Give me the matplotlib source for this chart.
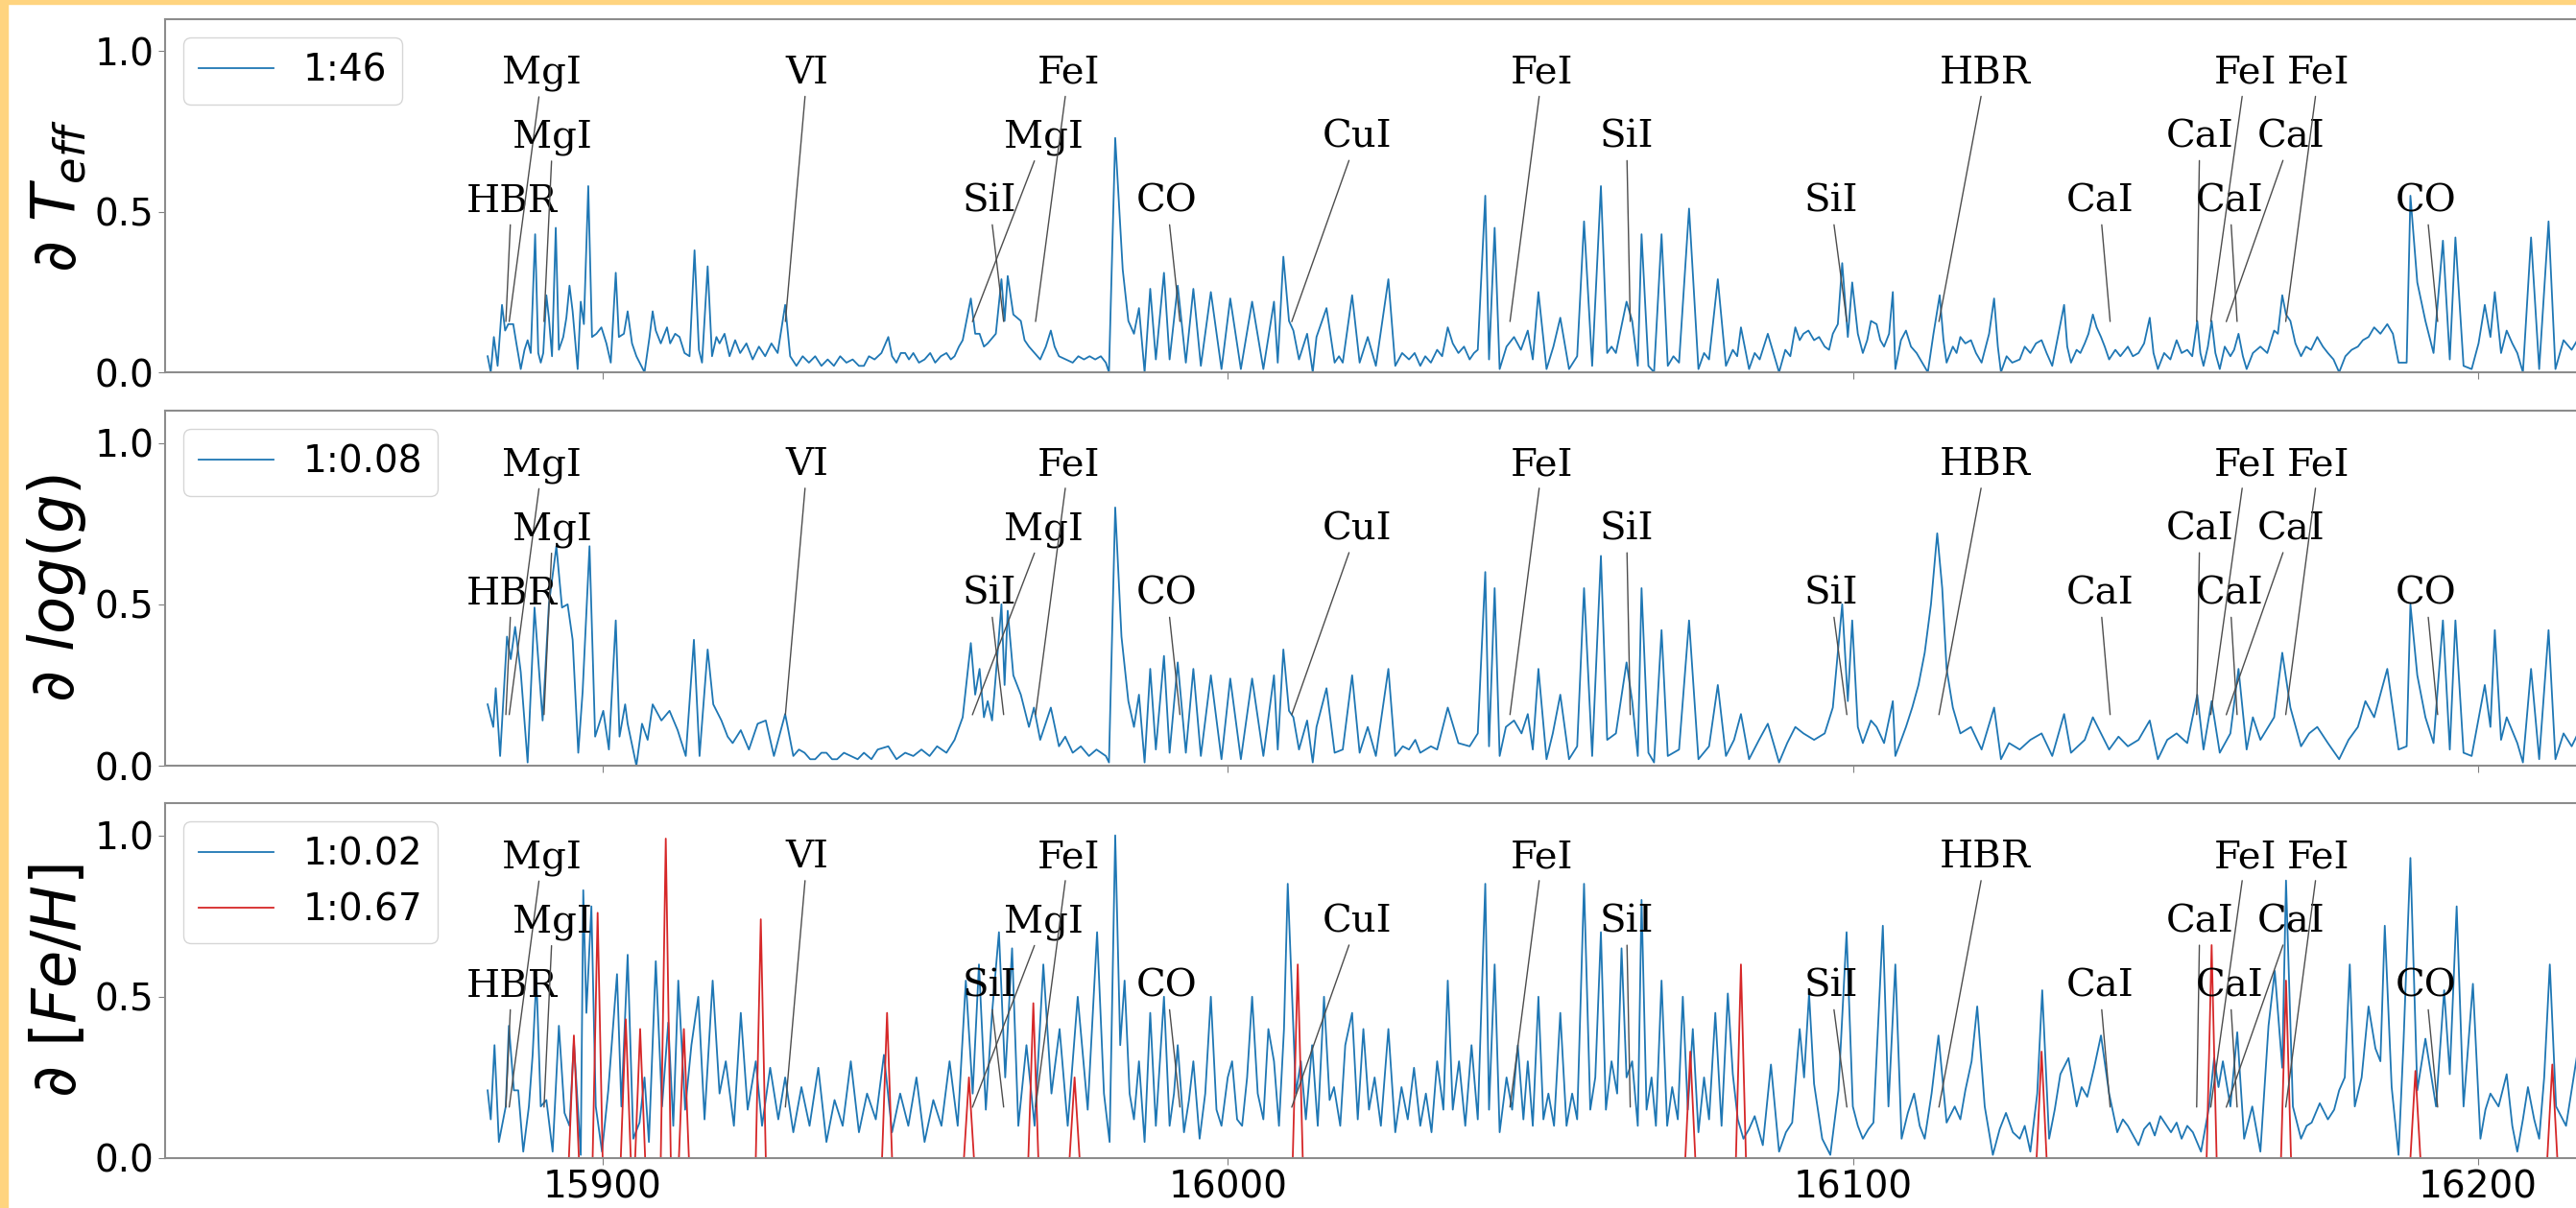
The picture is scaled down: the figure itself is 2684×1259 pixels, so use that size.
import numpy as np
import matplotlib.pyplot as plt
from matplotlib.patches import Rectangle

# gradient spectra: (wavelength, |d flux / d label|), normalised
teff_points = [
    (15881.6, 0.05), (15882.1, 0.00), (15882.6, 0.11), (15883.2, 0.02), (15883.9, 0.21), (15884.4, 0.13),
    (15884.9, 0.15), (15885.7, 0.15), (15886.2, 0.09), (15886.9, 0.01), (15887.5, 0.07), (15888.0, 0.10),
    (15888.5, 0.06), (15889.2, 0.43), (15889.7, 0.06), (15890.1, 0.03), (15890.5, 0.06), (15891.0, 0.24),
    (15891.4, 0.17), (15891.9, 0.05), (15892.5, 0.45), (15893.0, 0.07), (15893.7, 0.11), (15894.2, 0.17),
    (15894.7, 0.27), (15895.2, 0.19), (15896.0, 0.01), (15896.5, 0.22), (15897.0, 0.15), (15897.7, 0.58),
    (15898.3, 0.11), (15899.0, 0.12), (15899.8, 0.14), (15900.6, 0.09), (15901.3, 0.03), (15902.1, 0.31),
    (15902.6, 0.11), (15903.4, 0.12), (15904.0, 0.19), (15904.7, 0.09), (15905.4, 0.05), (15906.7, 0.00),
    (15907.5, 0.11), (15908.0, 0.19), (15908.5, 0.13), (15909.3, 0.09), (15910.3, 0.14), (15910.8, 0.09),
    (15911.6, 0.12), (15912.3, 0.11), (15913.1, 0.06), (15913.9, 0.05), (15914.7, 0.38), (15915.4, 0.07),
    (15915.9, 0.03), (15916.8, 0.33), (15917.5, 0.05), (15918.2, 0.11), (15918.7, 0.09), (15919.5, 0.12),
    (15920.3, 0.05), (15921.2, 0.10), (15922.0, 0.06), (15923.0, 0.09), (15924.0, 0.04), (15925.0, 0.08),
    (15926.0, 0.05), (15927.0, 0.09), (15928.0, 0.06), (15929.2, 0.21), (15930.0, 0.05), (15931.0, 0.02),
    (15932.0, 0.05), (15933.0, 0.03), (15934.0, 0.05), (15935.0, 0.02), (15936.0, 0.04), (15937.0, 0.02),
    (15938.0, 0.05), (15939.0, 0.03), (15940.0, 0.04), (15941.0, 0.02), (15941.8, 0.02), (15942.6, 0.05),
    (15943.5, 0.04), (15944.6, 0.06), (15945.7, 0.11), (15946.3, 0.05), (15947.0, 0.03), (15947.7, 0.06),
    (15948.4, 0.06), (15949.0, 0.04), (15949.7, 0.06), (15950.6, 0.03), (15951.5, 0.04), (15952.4, 0.06),
    (15953.2, 0.03), (15954.1, 0.05), (15955.0, 0.06), (15955.7, 0.04), (15956.3, 0.05), (15957.0, 0.08),
    (15957.6, 0.10), (15958.9, 0.23), (15959.6, 0.12), (15960.3, 0.12), (15961.0, 0.08), (15961.6, 0.09),
    (15962.9, 0.12), (15963.8, 0.29), (15964.3, 0.16), (15964.8, 0.30), (15965.7, 0.18), (15966.9, 0.16),
    (15967.5, 0.10), (15968.2, 0.08), (15969.1, 0.06), (15970.0, 0.04), (15970.9, 0.08), (15971.7, 0.13),
    (15972.3, 0.08), (15973.0, 0.05), (15974.1, 0.04), (15975.2, 0.03), (15976.1, 0.05), (15977.0, 0.04),
    (15977.9, 0.05), (15978.8, 0.04), (15979.7, 0.05), (15980.5, 0.03), (15981.0, 0.00), (15982.0, 0.73),
    (15983.2, 0.32), (15984.1, 0.16), (15985.0, 0.12), (15985.8, 0.20), (15986.7, 0.00), (15987.6, 0.26),
    (15988.5, 0.04), (15989.8, 0.31), (15990.7, 0.04), (15992.0, 0.27), (15993.3, 0.03), (15994.5, 0.26),
    (15995.7, 0.02), (15997.3, 0.25), (15999.0, 0.01), (16000.4, 0.23), (16002.1, 0.01), (16003.9, 0.22),
    (16005.7, 0.01), (16007.4, 0.22), (16008.0, 0.03), (16008.9, 0.36), (16009.8, 0.16), (16010.5, 0.13),
    (16011.4, 0.04), (16012.7, 0.12), (16013.6, 0.00), (16014.2, 0.11), (16015.8, 0.20), (16017.1, 0.03),
    (16017.8, 0.05), (16018.4, 0.03), (16019.9, 0.24), (16021.1, 0.03), (16022.4, 0.11), (16023.7, 0.02),
    (16025.7, 0.29), (16026.8, 0.02), (16027.9, 0.06), (16029.0, 0.04), (16029.9, 0.06), (16030.8, 0.02),
    (16031.6, 0.05), (16032.5, 0.03), (16033.5, 0.07), (16034.3, 0.05), (16035.2, 0.14), (16036.0, 0.09),
    (16036.9, 0.06), (16037.8, 0.08), (16038.7, 0.04), (16039.4, 0.06), (16040.0, 0.07), (16041.2, 0.55),
    (16041.8, 0.04), (16042.7, 0.45), (16043.5, 0.01), (16044.6, 0.08), (16045.8, 0.11), (16046.9, 0.07),
    (16048.0, 0.13), (16048.8, 0.04), (16049.7, 0.25), (16051.0, 0.01), (16052.1, 0.08), (16053.2, 0.17),
    (16054.6, 0.01), (16055.9, 0.05), (16057.0, 0.47), (16058.3, 0.02), (16059.7, 0.58), (16060.7, 0.06),
    (16061.4, 0.08), (16062.1, 0.06), (16063.8, 0.22), (16064.7, 0.16), (16065.6, 0.02), (16066.2, 0.43),
    (16067.3, 0.02), (16068.2, 0.00), (16069.4, 0.43), (16070.4, 0.02), (16071.3, 0.05), (16072.2, 0.03),
    (16073.8, 0.51), (16075.3, 0.01), (16076.2, 0.06), (16077.0, 0.04), (16078.4, 0.29), (16079.7, 0.02),
    (16080.8, 0.07), (16081.5, 0.05), (16082.1, 0.14), (16083.4, 0.01), (16084.3, 0.06), (16085.1, 0.04),
    (16086.4, 0.12), (16087.3, 0.06), (16088.2, 0.00), (16089.2, 0.07), (16090.0, 0.05), (16090.8, 0.14),
    (16091.5, 0.10), (16092.1, 0.12), (16092.9, 0.13), (16093.8, 0.10), (16094.6, 0.11), (16095.5, 0.08),
    (16096.2, 0.07), (16096.8, 0.12), (16097.6, 0.15), (16098.3, 0.34), (16099.2, 0.11), (16099.9, 0.28),
    (16100.8, 0.12), (16101.6, 0.06), (16102.3, 0.10), (16102.9, 0.16), (16103.8, 0.15), (16104.4, 0.10),
    (16105.0, 0.08), (16105.8, 0.12), (16106.4, 0.25), (16106.8, 0.01), (16107.7, 0.10), (16108.5, 0.13),
    (16109.3, 0.08), (16110.2, 0.06), (16111.1, 0.03), (16112.0, 0.00), (16112.9, 0.12), (16113.9, 0.24),
    (16114.5, 0.10), (16115.0, 0.03), (16116.0, 0.08), (16116.6, 0.06), (16117.2, 0.11), (16118.0, 0.09),
    (16118.9, 0.10), (16119.7, 0.06), (16120.6, 0.03), (16121.8, 0.12), (16122.6, 0.23), (16123.2, 0.08),
    (16123.7, 0.00), (16124.6, 0.05), (16125.5, 0.03), (16126.7, 0.04), (16127.5, 0.08), (16128.4, 0.06),
    (16129.3, 0.09), (16130.2, 0.10), (16131.0, 0.06), (16131.9, 0.02), (16132.9, 0.12), (16133.8, 0.21),
    (16134.3, 0.08), (16134.9, 0.03), (16135.8, 0.07), (16136.4, 0.06), (16137.1, 0.09), (16137.7, 0.12),
    (16138.4, 0.18), (16139.0, 0.14), (16139.7, 0.11), (16140.3, 0.08), (16141.0, 0.04), (16142.0, 0.07),
    (16142.8, 0.05), (16144.0, 0.08), (16144.8, 0.05), (16145.7, 0.06), (16146.6, 0.09), (16147.5, 0.17),
    (16148.1, 0.06), (16148.8, 0.01), (16149.8, 0.06), (16150.8, 0.04), (16151.8, 0.10), (16152.6, 0.06),
    (16153.5, 0.07), (16154.3, 0.05), (16155.1, 0.16), (16155.6, 0.06), (16156.1, 0.02), (16156.8, 0.08),
    (16157.4, 0.16), (16158.0, 0.06), (16158.7, 0.01), (16159.5, 0.08), (16160.4, 0.05), (16161.0, 0.07),
    (16161.7, 0.12), (16162.4, 0.05), (16163.0, 0.01), (16164.0, 0.06), (16165.2, 0.08), (16166.3, 0.06),
    (16167.4, 0.13), (16168.0, 0.12), (16168.7, 0.24), (16169.3, 0.18), (16170.0, 0.16), (16170.8, 0.09),
    (16171.7, 0.05), (16172.5, 0.08), (16173.3, 0.07), (16174.3, 0.11), (16175.2, 0.08), (16176.0, 0.06),
    (16176.9, 0.04), (16177.8, 0.00), (16178.8, 0.05), (16179.8, 0.07), (16180.8, 0.08), (16181.6, 0.10),
    (16182.5, 0.11), (16183.4, 0.14), (16184.4, 0.12), (16185.5, 0.15), (16186.4, 0.12), (16187.3, 0.03),
    (16188.6, 0.03), (16189.2, 0.55), (16190.3, 0.28), (16191.6, 0.16), (16192.9, 0.06), (16194.4, 0.41),
    (16195.5, 0.04), (16196.4, 0.42), (16197.7, 0.02), (16199.0, 0.01), (16200.1, 0.09), (16201.1, 0.21),
    (16202.0, 0.11), (16202.7, 0.25), (16203.7, 0.06), (16204.6, 0.13), (16205.5, 0.09), (16206.3, 0.06),
    (16207.2, 0.00), (16208.5, 0.42), (16209.8, 0.01), (16211.3, 0.47), (16212.4, 0.01), (16213.7, 0.10),
    (16215.0, 0.07), (16216.5, 0.12), (16218.0, 0.05),
]

logg_points = [
    (15881.6, 0.19), (15882.5, 0.12), (15882.9, 0.24), (15883.6, 0.03), (15884.7, 0.40), (15885.3, 0.33),
    (15886.0, 0.43), (15886.9, 0.29), (15888.0, 0.01), (15889.1, 0.49), (15890.4, 0.14), (15891.4, 0.50),
    (15892.6, 0.68), (15893.5, 0.49), (15894.4, 0.50), (15895.2, 0.39), (15896.1, 0.04), (15896.8, 0.23),
    (15897.9, 0.68), (15898.8, 0.09), (15900.1, 0.17), (15901.0, 0.05), (15902.1, 0.45), (15902.7, 0.09),
    (15903.6, 0.19), (15904.0, 0.13), (15905.4, 0.00), (15906.3, 0.13), (15907.2, 0.08), (15908.0, 0.19),
    (15909.4, 0.14), (15910.7, 0.17), (15912.0, 0.11), (15913.3, 0.03), (15914.6, 0.39), (15915.5, 0.03),
    (15916.8, 0.36), (15917.7, 0.19), (15919.0, 0.14), (15920.0, 0.09), (15920.8, 0.07), (15922.1, 0.11),
    (15923.4, 0.05), (15924.8, 0.13), (15926.1, 0.14), (15927.4, 0.03), (15929.2, 0.16), (15930.5, 0.03),
    (15931.4, 0.05), (15932.3, 0.04), (15933.2, 0.02), (15934.0, 0.02), (15935.0, 0.04), (15935.8, 0.04),
    (15936.7, 0.02), (15937.5, 0.02), (15938.6, 0.04), (15939.7, 0.03), (15940.8, 0.02), (15941.8, 0.04),
    (15943.0, 0.02), (15944.0, 0.05), (15945.7, 0.06), (15947.0, 0.02), (15948.4, 0.04), (15949.7, 0.03),
    (15951.0, 0.05), (15952.3, 0.03), (15953.5, 0.06), (15955.0, 0.04), (15956.3, 0.08), (15957.6, 0.15),
    (15958.9, 0.38), (15959.6, 0.22), (15960.3, 0.30), (15961.0, 0.15), (15961.6, 0.20), (15962.3, 0.14),
    (15962.9, 0.28), (15963.8, 0.50), (15964.3, 0.25), (15964.8, 0.48), (15965.7, 0.28), (15966.9, 0.22),
    (15968.2, 0.12), (15969.0, 0.18), (15970.0, 0.08), (15971.7, 0.18), (15973.0, 0.06), (15974.0, 0.09),
    (15975.2, 0.04), (15976.5, 0.06), (15977.8, 0.03), (15979.0, 0.05), (15980.5, 0.03), (15981.0, 0.01),
    (15982.0, 0.80), (15983.0, 0.40), (15984.1, 0.20), (15985.0, 0.12), (15985.8, 0.22), (15986.7, 0.01),
    (15987.6, 0.30), (15988.5, 0.05), (15989.8, 0.34), (15990.7, 0.04), (15992.0, 0.32), (15993.3, 0.04),
    (15994.5, 0.30), (15995.7, 0.03), (15997.3, 0.28), (15999.0, 0.02), (16000.4, 0.27), (16002.1, 0.02),
    (16003.9, 0.27), (16005.7, 0.03), (16007.4, 0.28), (16008.0, 0.05), (16008.9, 0.36), (16009.8, 0.17),
    (16010.5, 0.15), (16011.4, 0.05), (16012.7, 0.14), (16013.6, 0.01), (16014.2, 0.12), (16015.8, 0.24),
    (16017.1, 0.04), (16018.4, 0.05), (16019.9, 0.28), (16021.1, 0.04), (16022.4, 0.12), (16023.7, 0.03),
    (16025.7, 0.30), (16026.8, 0.03), (16028.0, 0.06), (16029.0, 0.05), (16030.0, 0.08), (16030.8, 0.04),
    (16032.5, 0.06), (16033.5, 0.05), (16035.2, 0.18), (16036.9, 0.07), (16038.7, 0.06), (16040.0, 0.10),
    (16041.2, 0.60), (16041.8, 0.06), (16042.7, 0.55), (16043.5, 0.03), (16044.5, 0.12), (16045.8, 0.14),
    (16047.0, 0.10), (16048.0, 0.16), (16048.8, 0.05), (16049.7, 0.30), (16051.0, 0.02), (16052.0, 0.10),
    (16053.2, 0.22), (16054.6, 0.02), (16055.9, 0.06), (16057.0, 0.55), (16058.3, 0.03), (16059.7, 0.65),
    (16060.7, 0.08), (16062.1, 0.10), (16063.8, 0.32), (16064.7, 0.20), (16065.6, 0.03), (16066.2, 0.55),
    (16067.3, 0.04), (16068.2, 0.01), (16069.4, 0.42), (16070.4, 0.03), (16072.2, 0.05), (16073.8, 0.45),
    (16075.3, 0.02), (16077.0, 0.06), (16078.4, 0.25), (16079.7, 0.03), (16081.0, 0.08), (16082.1, 0.16),
    (16083.4, 0.02), (16085.0, 0.08), (16086.4, 0.13), (16088.2, 0.01), (16089.5, 0.07), (16090.8, 0.12),
    (16092.1, 0.10), (16093.8, 0.08), (16095.5, 0.10), (16096.8, 0.18), (16098.3, 0.50), (16099.2, 0.20),
    (16099.9, 0.45), (16100.8, 0.12), (16101.6, 0.07), (16102.9, 0.14), (16103.8, 0.12), (16105.0, 0.07),
    (16106.4, 0.20), (16106.8, 0.03), (16108.5, 0.12), (16109.5, 0.18), (16110.5, 0.25), (16111.5, 0.35),
    (16112.5, 0.50), (16113.5, 0.72), (16114.3, 0.55), (16115.0, 0.30), (16116.0, 0.18), (16117.2, 0.10),
    (16118.9, 0.12), (16120.6, 0.05), (16122.6, 0.18), (16123.7, 0.02), (16125.0, 0.07), (16126.7, 0.05),
    (16128.4, 0.08), (16130.2, 0.10), (16131.9, 0.03), (16133.8, 0.16), (16134.9, 0.04), (16137.1, 0.08),
    (16138.4, 0.15), (16139.7, 0.10), (16141.0, 0.05), (16142.5, 0.09), (16144.0, 0.06), (16145.7, 0.08),
    (16147.5, 0.14), (16148.8, 0.02), (16150.3, 0.08), (16151.8, 0.10), (16153.5, 0.07), (16155.1, 0.22),
    (16156.1, 0.05), (16157.4, 0.20), (16158.7, 0.04), (16160.4, 0.10), (16161.7, 0.30), (16163.0, 0.05),
    (16164.0, 0.15), (16165.2, 0.08), (16167.4, 0.15), (16168.7, 0.35), (16170.0, 0.18), (16171.7, 0.06),
    (16173.0, 0.10), (16174.3, 0.12), (16176.0, 0.07), (16177.8, 0.02), (16179.3, 0.08), (16180.8, 0.12),
    (16182.0, 0.20), (16183.4, 0.15), (16185.5, 0.30), (16187.3, 0.05), (16188.6, 0.06), (16189.2, 0.50),
    (16190.3, 0.28), (16191.6, 0.15), (16192.9, 0.07), (16194.4, 0.45), (16195.5, 0.05), (16196.4, 0.45),
    (16197.7, 0.04), (16199.0, 0.03), (16201.1, 0.25), (16202.0, 0.12), (16202.7, 0.42), (16203.7, 0.08),
    (16204.6, 0.15), (16206.3, 0.07), (16207.2, 0.01), (16208.5, 0.30), (16209.8, 0.02), (16211.3, 0.42),
    (16212.4, 0.02), (16213.7, 0.10), (16215.0, 0.06), (16216.5, 0.12), (16218.0, 0.05),
]

feh_points = [
    (15881.6, 0.21), (15882.1, 0.12), (15882.7, 0.35), (15883.4, 0.05), (15884.5, 0.16), (15885.0, 0.41),
    (15885.8, 0.21), (15886.5, 0.21), (15887.3, 0.02), (15888.2, 0.16), (15888.8, 0.32), (15889.4, 0.56),
    (15890.1, 0.16), (15891.0, 0.18), (15892.0, 0.02), (15893.0, 0.41), (15893.9, 0.14), (15894.7, 0.10),
    (15895.4, 0.36), (15896.5, 0.01), (15896.9, 0.83), (15897.4, 0.45), (15898.2, 0.78), (15898.9, 0.16),
    (15899.9, 0.02), (15900.9, 0.21), (15902.3, 0.57), (15903.0, 0.16), (15904.0, 0.63), (15904.9, 0.06),
    (15905.9, 0.11), (15906.7, 0.25), (15907.4, 0.05), (15908.5, 0.61), (15909.5, 0.16), (15910.5, 0.42),
    (15911.3, 0.10), (15912.1, 0.55), (15913.2, 0.15), (15914.2, 0.35), (15915.3, 0.50), (15916.3, 0.12),
    (15917.6, 0.55), (15918.7, 0.20), (15919.7, 0.30), (15921.0, 0.10), (15922.1, 0.45), (15923.2, 0.15),
    (15924.5, 0.30), (15925.5, 0.10), (15926.8, 0.28), (15928.1, 0.12), (15929.2, 0.25), (15930.5, 0.08),
    (15931.8, 0.22), (15933.1, 0.10), (15934.5, 0.28), (15935.8, 0.05), (15937.1, 0.18), (15938.4, 0.10),
    (15939.7, 0.30), (15941.0, 0.08), (15942.3, 0.20), (15943.7, 0.12), (15945.0, 0.32), (15946.3, 0.08),
    (15947.6, 0.20), (15948.9, 0.10), (15950.2, 0.25), (15951.5, 0.05), (15952.9, 0.18), (15954.2, 0.10),
    (15955.5, 0.30), (15956.8, 0.10), (15958.1, 0.55), (15959.2, 0.20), (15960.2, 0.60), (15961.3, 0.15),
    (15962.3, 0.45), (15963.4, 0.70), (15964.4, 0.25), (15965.5, 0.65), (15966.5, 0.10), (15967.8, 0.35),
    (15969.1, 0.10), (15970.5, 0.60), (15971.8, 0.20), (15973.1, 0.40), (15974.4, 0.10), (15976.0, 0.50),
    (15977.6, 0.15), (15979.1, 0.70), (15980.2, 0.20), (15981.1, 0.05), (15982.0, 1.00), (15982.8, 0.35),
    (15983.5, 0.55), (15984.3, 0.20), (15985.0, 0.12), (15985.8, 0.30), (15986.7, 0.05), (15987.6, 0.45),
    (15988.5, 0.10), (15989.8, 0.50), (15990.7, 0.10), (15991.4, 0.20), (15992.0, 0.35), (15993.0, 0.08),
    (15993.8, 0.18), (15994.5, 0.30), (15995.5, 0.06), (15996.4, 0.20), (15997.3, 0.50), (15998.2, 0.15),
    (15999.0, 0.10), (16000.0, 0.25), (16000.7, 0.30), (16001.5, 0.12), (16002.3, 0.10), (16003.1, 0.25),
    (16003.9, 0.50), (16004.8, 0.20), (16005.7, 0.12), (16006.5, 0.40), (16007.4, 0.30), (16008.2, 0.10),
    (16009.0, 0.40), (16009.6, 0.85), (16010.9, 0.20), (16011.7, 0.30), (16012.5, 0.12), (16013.5, 0.35),
    (16014.4, 0.10), (16015.4, 0.50), (16016.3, 0.18), (16017.0, 0.22), (16018.0, 0.10), (16018.8, 0.35),
    (16019.9, 0.45), (16020.8, 0.12), (16021.7, 0.40), (16022.6, 0.15), (16023.5, 0.25), (16024.5, 0.10),
    (16025.7, 0.40), (16026.8, 0.08), (16027.8, 0.22), (16028.8, 0.12), (16029.8, 0.28), (16030.8, 0.10),
    (16031.7, 0.20), (16032.6, 0.08), (16033.5, 0.30), (16034.5, 0.15), (16035.2, 0.55), (16036.0, 0.15),
    (16037.0, 0.30), (16038.0, 0.10), (16039.0, 0.35), (16040.0, 0.12), (16041.2, 0.85), (16041.8, 0.15),
    (16042.7, 0.60), (16043.5, 0.08), (16044.6, 0.25), (16045.5, 0.15), (16046.4, 0.35), (16047.3, 0.12),
    (16048.0, 0.30), (16048.8, 0.10), (16049.7, 0.50), (16050.5, 0.12), (16051.3, 0.20), (16052.2, 0.10),
    (16053.2, 0.45), (16054.2, 0.10), (16055.1, 0.20), (16055.9, 0.12), (16057.0, 0.85), (16058.0, 0.15),
    (16058.8, 0.25), (16059.7, 0.70), (16060.5, 0.15), (16061.4, 0.30), (16062.3, 0.20), (16063.0, 0.65),
    (16063.8, 0.25), (16064.7, 0.30), (16065.6, 0.10), (16066.2, 0.80), (16067.0, 0.15), (16067.8, 0.25),
    (16068.5, 0.10), (16069.4, 0.55), (16070.3, 0.10), (16071.1, 0.22), (16072.0, 0.12), (16072.8, 0.50),
    (16073.6, 0.15), (16074.4, 0.40), (16075.3, 0.08), (16076.2, 0.25), (16077.0, 0.12), (16078.0, 0.45),
    (16079.0, 0.10), (16080.0, 0.51), (16080.8, 0.26), (16081.6, 0.12), (16082.5, 0.06), (16083.4, 0.09),
    (16084.3, 0.13), (16085.6, 0.04), (16086.9, 0.29), (16088.2, 0.02), (16089.3, 0.08), (16090.3, 0.11),
    (16091.5, 0.40), (16092.2, 0.25), (16093.0, 0.51), (16093.8, 0.23), (16095.1, 0.06), (16096.4, 0.01),
    (16097.7, 0.21), (16099.0, 0.70), (16100.0, 0.16), (16100.8, 0.10), (16101.6, 0.06), (16102.5, 0.09),
    (16103.3, 0.11), (16104.8, 0.72), (16105.7, 0.16), (16106.8, 0.60), (16107.8, 0.06), (16108.8, 0.14),
    (16109.8, 0.20), (16110.7, 0.10), (16111.5, 0.06), (16112.6, 0.20), (16113.7, 0.38), (16115.0, 0.11),
    (16116.3, 0.16), (16117.2, 0.12), (16118.0, 0.21), (16119.0, 0.30), (16119.9, 0.47), (16121.1, 0.16),
    (16122.4, 0.01), (16123.5, 0.09), (16124.5, 0.14), (16125.6, 0.08), (16126.7, 0.06), (16127.5, 0.10),
    (16128.4, 0.02), (16129.5, 0.20), (16130.3, 0.52), (16131.4, 0.06), (16132.3, 0.15), (16133.2, 0.26),
    (16134.5, 0.31), (16135.8, 0.16), (16136.6, 0.22), (16137.5, 0.19), (16138.6, 0.28), (16139.7, 0.38),
    (16141.0, 0.20), (16142.3, 0.08), (16143.2, 0.12), (16144.0, 0.10), (16145.7, 0.04), (16146.6, 0.09),
    (16147.5, 0.11), (16148.3, 0.07), (16149.2, 0.13), (16150.9, 0.08), (16151.8, 0.11), (16152.6, 0.06),
    (16153.5, 0.10), (16154.4, 0.08), (16155.7, 0.02), (16157.0, 0.16), (16157.8, 0.31), (16158.5, 0.22),
    (16159.2, 0.30), (16160.4, 0.16), (16161.5, 0.39), (16162.6, 0.06), (16163.9, 0.16), (16165.2, 0.02),
    (16166.5, 0.41), (16167.5, 0.58), (16168.7, 0.28), (16169.3, 0.86), (16170.4, 0.16), (16171.7, 0.06),
    (16172.6, 0.10), (16173.4, 0.11), (16174.7, 0.17), (16176.0, 0.12), (16177.0, 0.15), (16177.8, 0.21),
    (16178.7, 0.25), (16179.5, 0.60), (16180.3, 0.16), (16181.4, 0.25), (16182.5, 0.47), (16183.6, 0.34),
    (16184.4, 0.30), (16185.1, 0.72), (16186.2, 0.22), (16187.3, 0.01), (16188.1, 0.36), (16189.2, 0.93),
    (16190.3, 0.21), (16191.6, 0.37), (16193.3, 0.16), (16194.6, 0.52), (16195.5, 0.26), (16196.6, 0.78),
    (16197.7, 0.16), (16199.2, 0.54), (16200.4, 0.06), (16201.2, 0.15), (16202.0, 0.20), (16203.3, 0.16),
    (16204.6, 0.26), (16205.5, 0.10), (16206.3, 0.02), (16207.2, 0.12), (16208.0, 0.22), (16209.0, 0.12),
    (16209.8, 0.06), (16210.6, 0.25), (16211.5, 0.60), (16212.5, 0.16), (16214.1, 0.10), (16215.4, 0.26),
    (16216.5, 0.40), (16218.0, 0.12),
]

feh2_points = [
    (15881.6, 0.00), (15894.6, 0.00), (15895.4, 0.38), (15896.2, 0.00), (15898.4, 0.00), (15899.2, 0.76),
    (15900.0, 0.00), (15902.9, 0.00), (15903.7, 0.43), (15904.5, 0.00), (15905.2, 0.00), (15906.0, 0.40),
    (15906.8, 0.00), (15909.3, 0.00), (15910.1, 0.99), (15910.9, 0.00), (15912.2, 0.00), (15913.0, 0.40),
    (15913.8, 0.00), (15924.5, 0.00), (15925.3, 0.74), (15926.1, 0.00), (15944.7, 0.00), (15945.5, 0.45),
    (15946.3, 0.00), (15957.8, 0.00), (15958.6, 0.25), (15959.4, 0.00), (15968.1, 0.00), (15968.9, 0.48),
    (15969.7, 0.00), (15974.7, 0.00), (15975.5, 0.25), (15976.3, 0.00), (16010.4, 0.00), (16011.2, 0.60),
    (16012.0, 0.00), (16073.2, 0.00), (16074.0, 0.33), (16074.8, 0.00), (16081.3, 0.00), (16082.1, 0.60),
    (16082.9, 0.00), (16129.4, 0.00), (16130.2, 0.33), (16131.0, 0.00), (16156.6, 0.00), (16157.4, 0.66),
    (16158.2, 0.00), (16168.5, 0.00), (16169.3, 0.55), (16170.1, 0.00), (16189.2, 0.00), (16190.0, 0.27),
    (16190.8, 0.00), (16211.1, 0.00), (16211.9, 0.29), (16212.7, 0.00), (16220.0, 0.00),
]

# spectral lines: (label, line wavelength)
line_labels = ["HBR", "MgI", "MgI", "VI", "SiI", "MgI", "FeI", "CO", "CuI", "FeI",
               "SiI", "SiI", "HBR", "CaI", "CaI", "CaI", "FeI", "CaI", "FeI", "CO"]
line_wl = [15884.5, 15885.0, 15890.6, 15929.2, 15964.2, 15959.0, 15969.2, 15992.4, 16010.1, 16045.1,
           16064.4, 16099.1, 16113.7, 16141.2, 16155.0, 16161.5, 16157.2, 16159.6, 16169.2, 16193.6]

panels = [
    (r"$\partial\ T_{eff}$", [(teff_points, "1:46", "tab:blue")]),
    (r"$\partial\ log(g)$", [(logg_points, "1:0.08", "tab:blue")]),
    (r"$\partial\ [Fe/H]$", [(feh_points, "1:0.02", "tab:blue"), (feh2_points, "1:0.67", "tab:red")]),
]

# where each line label sits: (x of text centre, text row)
label_pos = [(15885.4, 2), (15890.3, 0), (15892.0, 1), (15932.7, 0), (15961.9, 2), (15970.5, 1),
             (15974.5, 0), (15990.3, 2), (16020.7, 1), (16050.3, 0), (16063.8, 1), (16096.5, 2),
             (16121.2, 0), (16139.5, 2), (16155.5, 1), (16160.3, 2), (16162.8, 0), (16170.1, 1),
             (16174.5, 0), (16191.7, 2)]
row_y = [0.9, 0.7, 0.5]

W, H = 2684, 1259
fig = plt.figure(figsize=(W / 100, H / 100), dpi=100)
fig.patch.set_facecolor("white")

px_per_aa = 6.513
x0, x1 = 15830, 16240
ax_left = 172 / W
ax_width = (x1 - x0) * px_per_aa / W
tops = [20, 428, 837]
heights = [368, 370, 370]

for i, (ylabel, series) in enumerate(panels):
    bottom = (H - tops[i] - heights[i]) / H
    ax = fig.add_axes([ax_left, bottom, ax_width, heights[i] / H])
    for pts, lab, col in series:
        arr = np.array(pts)
        ax.plot(arr[:, 0], arr[:, 1], color=col, lw=1.3, label=lab)
    for name, wl, (tx, row) in zip(line_labels, line_wl, label_pos):
        ax.annotate(name, xy=(wl, 0.15), xytext=(tx, row_y[row]),
                    ha="center", va="baseline", fontsize=29, family="DejaVu Serif",
                    arrowprops=dict(arrowstyle="-", color="0.3", lw=1.0, shrinkA=2, shrinkB=2))
    ax.set_xlim(x0, x1)
    ax.set_ylim(0, 1.1)
    ax.set_yticks([0, 0.5, 1.0])
    ax.set_xticks([15900, 16000, 16100, 16200])
    ax.tick_params(labelsize=28, color="0.5", length=5)
    if i < 2:
        ax.tick_params(labelbottom=False)
    for sp in ax.spines.values():
        sp.set_color("0.55")
        sp.set_linewidth(1.5)
    ax.set_ylabel(ylabel, fontsize=46)
    ax.yaxis.set_label_coords(-0.030, 0.5)
    ax.legend(loc="upper left", fontsize=28)

# page border strips
fig.add_artist(Rectangle((0, 0), 8 / W, 1, transform=fig.transFigure, color="#FFD47F", zorder=10))
fig.add_artist(Rectangle((0, 1 - 3.5 / H), 1, 3.5 / H, transform=fig.transFigure, color="#FFD47F", zorder=10))

fig.savefig("out.png", dpi=100)
